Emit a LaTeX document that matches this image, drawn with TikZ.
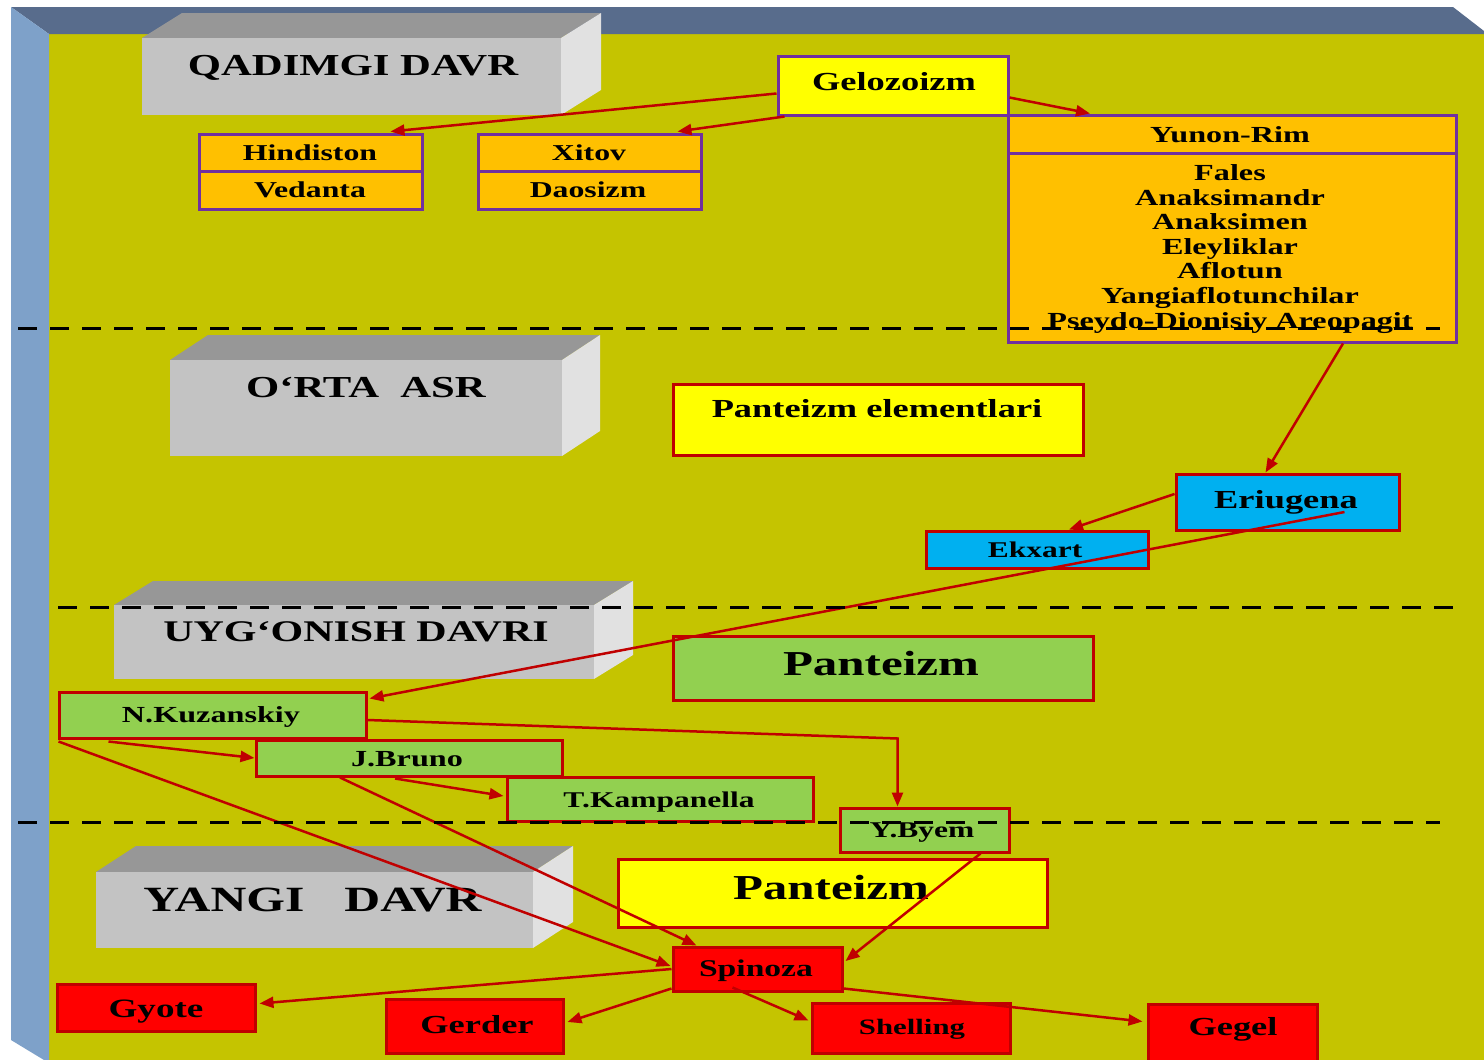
\documentclass[tikz,border=0pt]{standalone}
\usepackage{fontspec}
\newfontfamily\tf{Liberation Serif}[FakeStretch=1.4]
\usetikzlibrary{arrows.meta,calc}
\definecolor{bgol}{RGB}{197,196,0}
\definecolor{topband}{RGB}{88,108,140}
\definecolor{leftband}{RGB}{126,161,201}
\definecolor{gfront}{RGB}{195,195,195}
\definecolor{gtop}{RGB}{151,151,151}
\definecolor{gright}{RGB}{225,225,225}
\definecolor{purp}{RGB}{112,48,160}
\definecolor{dred}{RGB}{192,0,0}
\definecolor{ora}{RGB}{255,192,0}
\definecolor{yel}{RGB}{255,255,0}
\definecolor{grn}{RGB}{146,208,80}
\definecolor{blu}{RGB}{0,176,240}
\definecolor{rd}{RGB}{255,0,0}
\tikzset{
  pbox/.style={draw=purp, line width=3pt, inner sep=0pt},
  rbox/.style={draw=dred, line width=3pt, inner sep=0pt},
  sz/.style args={#1/#2}{minimum width=#1pt, minimum height=#2pt},
  lbl/.style={font=\tf\bfseries\fontsize{#1}{#1}\selectfont, text height=0.66*#1pt, text depth=0pt, inner sep=0pt, text=black},
  arr/.style={draw=dred, line width=2.5pt, -{Triangle[length=14pt,width=11pt]}},
  dline/.style={draw=black, line width=3pt, dash pattern=on 19pt off 13pt},
}
\newcommand\grayblock[6]{%
  \fill[gtop] (#1,#2) -- (#1+#5,#2-#6) -- (#3+#5,#2-#6) -- (#3,#2) -- cycle;
  \fill[gright] (#3,#2) -- (#3+#5,#2-#6) -- (#3+#5,#4-#6) -- (#3,#4) -- cycle;
  \fill[gfront] (#1,#2) rectangle (#3,#4);}
\begin{document}
\begin{tikzpicture}[x=1pt,y=-1pt]
\useasboundingbox (0,0) rectangle (1484,1060);
\fill[white] (0,0) rectangle (1484,1060);
\fill[bgol] (49,33) rectangle (1484,1060);
\fill[topband] (11,7) -- (1453,7) -- (1484,31) -- (1484,34) -- (49,34) -- cycle;
\fill[leftband] (11,7) -- (49,34) -- (49,1060) -- (44,1060) -- (11,1040) -- cycle;

% period blocks
\grayblock{142}{38}{561}{115}{40}{25}
\grayblock{170}{360}{562}{456}{38}{25}
\grayblock{114}{605}{594}{679}{39}{24}
\grayblock{96}{872}{533}{948}{40}{26}
\node[lbl=30.5] (tq) at (353,65) {QADIMGI DAVR};
\node[lbl=30.5] (to) at (366,387) {O‘RTA\ \ ASR};
\node[lbl=30] (tu) at (356,632) {UYG‘ONISH DAVRI};
\node[lbl=35.5] (ty) at (312.5,899.5) {YANGI\hspace*{40pt}DAVR};

% boxes
\node[pbox, fill=yel, sz=230/59] (gel) at (893,85.5) {};
\node[pbox, fill=ora, sz=223/37] (hin) at (310.5,152.5) {};
\node[pbox, fill=ora, sz=223/38] (ved) at (310.5,190) {};
\node[pbox, fill=ora, sz=223/37] (xit) at (589.5,152.5) {};
\node[pbox, fill=ora, sz=223/38] (dao) at (589.5,190) {};
\node[pbox, fill=ora, sz=448/38] (yun) at (1232,134) {};
\node[pbox, fill=ora, sz=448/189] (yunb) at (1232,247.5) {};
\node[rbox, fill=yel, sz=410/71] (pel) at (878,419.5) {};
\node[rbox, fill=blu, sz=223/56] (eri) at (1287.5,502) {};
\node[rbox, fill=blu, sz=222/37] (ekx) at (1037,549.5) {};
\node[rbox, fill=grn, sz=420/64] (pg) at (883,668) {};
\node[rbox, fill=grn, sz=307/46] (nk) at (212.5,715) {};
\node[rbox, fill=grn, sz=306/36] (jb) at (409,758) {};
\node[rbox, fill=grn, sz=306/44] (tk) at (660,799) {};
\node[rbox, fill=grn, sz=169/44] (yb) at (924.5,830) {};
\node[rbox, fill=yel, sz=429/68] (py) at (832.5,893) {};
\node[rbox, fill=rd, sz=169/44] (sp) at (757.5,969) {};
\node[rbox, fill=rd, sz=198/47] (gy) at (156,1007.5) {};
\node[rbox, fill=rd, sz=177/54] (ge) at (474.5,1026) {};
\node[rbox, fill=rd, sz=198/50] (sh) at (911,1028) {};
\node[rbox, fill=rd, sz=169/60] (gg) at (1232.5,1034) {};

% texts
\node[lbl=26] (t-gel) at (894,82) {Gelozoizm};
\node[lbl=22.7] (t-hin) at (310,153) {Hindiston};
\node[lbl=22.7] (t-ved) at (310,190) {Vedanta};
\node[lbl=22.7] (t-xit) at (589,153) {Xitov};
\node[lbl=22.7] (t-dao) at (588,190) {Daosizm};
\node[lbl=23] (t-yun) at (1230,135) {Yunon-Rim};
\foreach \t [count=\i from 0] in {Fales,Anaksimandr,Anaksimen,Eleyliklar,Aflotun,Yangiaflotunchilar,Pseydo-Dionisiy Areopagit}
  \node[lbl=23] (yl\i) at (1230,173+24.6*\i) {\t};
\node[lbl=26] (t-pel) at (877,409) {Panteizm elementlari};
\node[lbl=26] (t-eri) at (1286,500) {Eriugena};
\node[lbl=22.5] (t-ekx) at (1035,550.5) {Ekxart};
\node[lbl=35] (t-pg) at (881,664) {Panteizm};
\node[lbl=23] (t-nk) at (211,715) {N.Kuzanskiy};
\node[lbl=23] (t-jb) at (407,759) {J.Bruno};
\node[lbl=22.5] (t-tk) at (659,800) {T.Kampanella};
\node[lbl=22.5] (t-yb) at (922,830) {Y.Byem};
\node[lbl=35] (t-py) at (831,888) {Panteizm};
\node[lbl=24] (t-sp) at (756,969) {Spinoza};
\node[lbl=26.5] (t-gy) at (156,1009) {Gyote};
\node[lbl=26] (t-ge) at (477,1025) {Gerder};
\node[lbl=22] (t-sh) at (912,1027) {Shelling};
\node[lbl=26] (t-gg) at (1233,1027) {Gegel};

% connectors
\draw[arr] ($(gel.west)+(0,8)$) -- ($(hin.north)+(80,-1)$);
\draw[arr] ($(gel.south west)+(8,0)$) -- ($(xit.north)+(88,-1)$);
\draw[arr] ($(gel.east)+(0,12)$) -- ($(yun.north)+(-142,0)$);
\draw[arr] ($(yunb.south)+(111,0)$) -- ($(eri.north)+(-22,0)$);
\draw[arr] ($(eri.west)+(0,-8)$) -- ($(ekx.north)+(32,0)$);
\draw[arr] ($(eri.center)+(57,10)$) -- ($(nk.north east)+(2,8)$);
\draw[arr] ($(nk.east)+(0,5)$) -- ($(yb.north)+(-27,-68)$) -- ($(yb.north)+(-27,0)$);
\draw[arr] ($(nk.south west)+(51,2)$) -- (jb.west);
\draw[arr] ($(nk.south west)+(1,2)$) -- ($(sp.west)+(-1,-3)$);
\draw[arr] ($(jb.south)+(-69,0)$) -- ($(sp.north)+(-61,0)$);
\draw[arr] ($(jb.south)+(-14,1)$) -- ($(tk.west)+(-2,-3)$);
\draw[arr] ($(yb.south)+(56,0)$) -- ($(sp.east)+(2,-8)$);
\draw[arr] (sp.west) -- ($(gy.east)+(3,-4)$);
\draw[arr] ($(sp.south west)+(0,-4)$) -- ($(ge.east)+(3,-4)$);
\draw[arr] ($(sp.south)+(-25,-5)$) -- ($(sh.north west)+(-2,19)$);
\draw[arr] ($(sp.south east)+(0,-4)$) -- ($(gg.north west)+(-4,19)$);

% period separators
\draw[dline] (18,328) -- (1440,328);
\draw[dline] (58,607) -- (1464,607);
\draw[dline] (18,822) -- (1440,822);
\end{tikzpicture}
\end{document}
